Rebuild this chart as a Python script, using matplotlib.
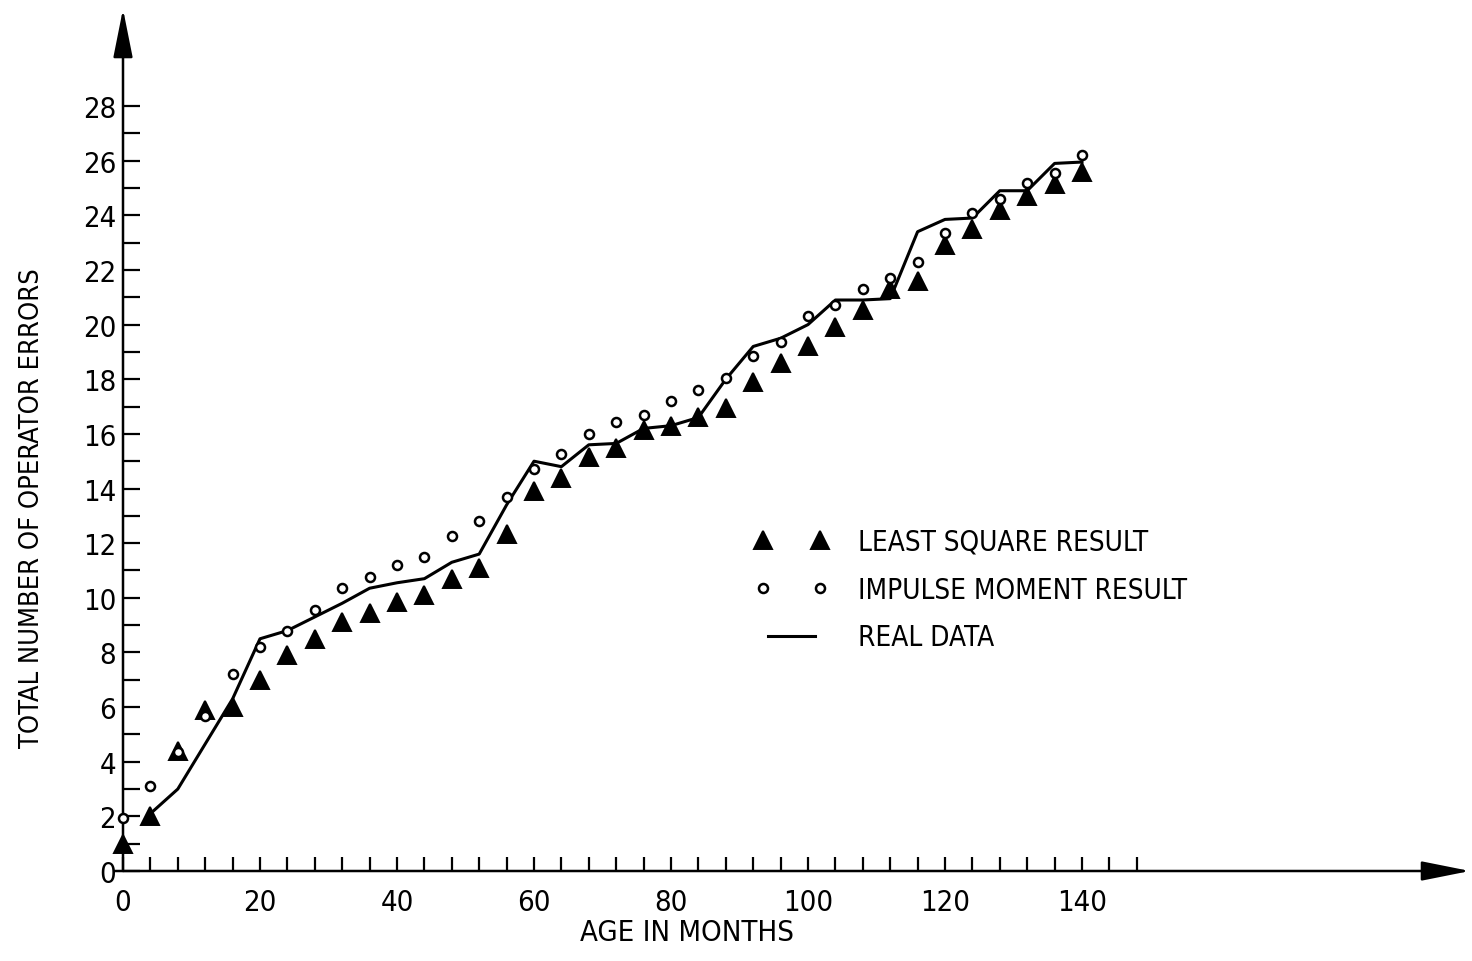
import matplotlib
matplotlib.use("Agg")
import matplotlib.pyplot as plt
from matplotlib import font_manager
from matplotlib.legend_handler import HandlerLine2D

# look for a condensed sans face for the lettering
narrow = [f for f in font_manager.fontManager.ttflist
          if ("Narrow" in f.name or "condensed" in str(f.stretch))
          and f.style == "normal" and f.weight in (400, "normal", "regular")]
if narrow:
    plt.rcParams["font.family"] = [narrow[0].name, "DejaVu Sans"]
    plt.rcParams["font.stretch"] = narrow[0].stretch
    shrink = 1.0
else:
    plt.rcParams["font.family"] = ["Liberation Sans", "DejaVu Sans"]
    shrink = 0.86

# age in months for the model results
months = [0, 4, 8, 12, 16, 20, 24, 28, 32, 36, 40, 44, 48, 52, 56, 60, 64, 68,
          72, 76, 80, 84, 88, 92, 96, 100, 104, 108, 112, 116, 120, 124, 128,
          132, 136, 140]

least_square = [1.0, 2.0, 4.4, 5.9, 6.0, 7.0, 7.9, 8.5, 9.1, 9.45, 9.85, 10.1,
                10.7, 11.1, 12.35, 13.9, 14.4, 15.15, 15.5, 16.15, 16.3, 16.6,
                16.95, 17.9, 18.6, 19.2, 19.9, 20.55, 21.3, 21.6, 22.9, 23.5,
                24.2, 24.7, 25.15, 25.6]

impulse_moment = [1.95, 3.1, 4.35, 5.67, 7.2, 8.2, 8.8, 9.55, 10.35, 10.75,
                  11.2, 11.5, 12.25, 12.8, 13.7, 14.7, 15.25, 16.0, 16.45, 16.7,
                  17.2, 17.6, 18.05, 18.85, 19.35, 20.3, 20.7, 21.3, 21.7, 22.3,
                  23.35, 24.1, 24.6, 25.2, 25.55, 26.2]

# observed cumulative errors
real_months = [4, 8, 12, 16, 20, 24, 28, 32, 36, 40, 44, 48, 52, 56, 60, 64, 68,
               72, 76, 80, 84, 88, 92, 96, 100, 104, 108, 112, 116, 120, 124,
               128, 132, 136, 140]
real_data = [2.1, 3.0, 4.65, 6.3, 8.5, 8.8, 9.3, 9.8, 10.35, 10.55, 10.7, 11.3,
             11.6, 13.4, 15.0, 14.8, 15.6, 15.65, 16.2, 16.3, 16.6, 18.0, 19.2,
             19.5, 20.0, 20.9, 20.9, 20.95, 23.4, 23.85, 23.9, 24.9, 24.9, 25.9,
             25.95]

y_labels = [0, 2, 4, 6, 8, 10, 12, 14, 16, 18, 20, 22, 24, 26, 28]
y_minor = [1, 3, 5, 7, 9, 11, 13, 15, 17, 19, 21, 23, 25, 27]
x_labels = [0, 20, 40, 60, 80, 100, 120, 140]
x_minor = [4, 8, 12, 16, 24, 28, 32, 36, 44, 48, 52, 56, 64, 68, 72, 76, 84,
           88, 92, 96, 104, 108, 112, 116, 124, 128, 132, 136, 144, 148]

W, H = 1472, 962
fig = plt.figure(figsize=(W / 100, H / 100), dpi=100)
ax = fig.add_axes([123 / W, 90 / H, 1347 / W, 862 / H])
ax.set_xlim(0, 1347 / 6.85)
ax.set_ylim(0, 862 / 27.32)

ln, = ax.plot(real_months, real_data, color="black", lw=2.2, zorder=2,
              solid_joinstyle="round", label="REAL DATA")
tri, = ax.plot(months, least_square, ls="none", marker="^", ms=13,
               color="black", mew=1.4, zorder=3, clip_on=False,
               label="LEAST SQUARE RESULT")
circ, = ax.plot(months, impulse_moment, ls="none", marker="o", ms=6.5,
                mfc="white", mec="black", mew=1.8, zorder=4, clip_on=False,
                label="IMPULSE MOMENT RESULT")

# axes drawn as arrows
for s in ax.spines.values():
    s.set_visible(False)
arrow = dict(arrowstyle="-|>,head_length=1.5,head_width=0.3", color="black",
             lw=1.8, shrinkA=0, shrinkB=0, mutation_scale=20)
ax.annotate("", xy=(1.0, 0), xytext=(-0.006, 0), xycoords="axes fraction",
            arrowprops=arrow, annotation_clip=False)
ax.annotate("", xy=(0, 1.0), xytext=(0, 0), xycoords="axes fraction",
            arrowprops=arrow, annotation_clip=False)

ax.set_yticks(y_labels)
ax.set_yticks(y_minor, minor=True)
ax.set_xticks(x_labels)
ax.set_xticks(x_minor, minor=True)
ax.tick_params(axis="y", which="both", direction="in", length=12, width=1.6,
               pad=5, labelsize=21)
ax.tick_params(axis="x", which="both", direction="in", length=10, width=1.6,
               pad=12, labelsize=21)

ax.set_xlabel("AGE IN MONTHS", fontsize=21 * shrink)
ax.xaxis.set_label_coords(0.4187, -0.054)
ax.set_ylabel("TOTAL NUMBER OF OPERATOR ERRORS", fontsize=19.5 * shrink)
ax.yaxis.set_label_coords(-0.058, 0.4223)

ax.legend(handles=[tri, circ, ln], loc="upper left",
          bbox_to_anchor=(760 / W, 1 - 529 / H), bbox_transform=fig.transFigure,
          frameon=False, numpoints=2, fontsize=20 * shrink, borderpad=0,
          borderaxespad=0, handlelength=2.27, handletextpad=1.26,
          labelspacing=0.71,
          handler_map={tri: HandlerLine2D(marker_pad=0.1),
                       circ: HandlerLine2D(marker_pad=0.1)})

fig.savefig("out.png", dpi=100)
